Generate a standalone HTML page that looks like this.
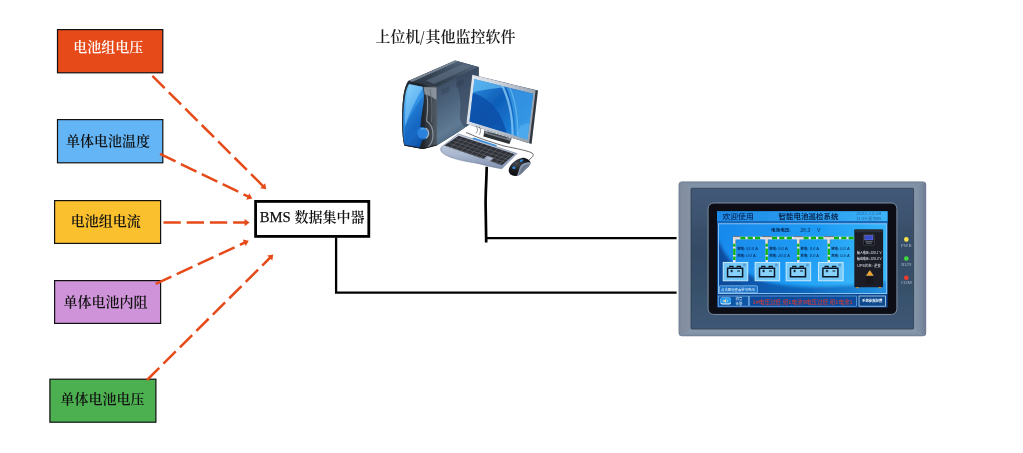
<!DOCTYPE html>
<html lang="zh-CN">
<head>
<meta charset="utf-8">
<title>BMS 数据集中器</title>
<style>
html,body{margin:0;padding:0;background:#fff;}
body{width:1023px;height:453px;overflow:hidden;position:relative;}
svg{position:absolute;left:0;top:0;display:block;will-change:transform;}
.serif{font-family:"Liberation Serif","Noto Serif CJK SC",serif;font-size:14px;font-weight:600;}
.sans{font-family:"Liberation Sans","Noto Sans CJK SC",sans-serif;}
.dash{stroke:#E64A19;stroke-width:2.5;stroke-dasharray:17.3 5.9;fill:none;}
.ah{fill:#E64A19;}
.wire{stroke:#000;stroke-width:2;fill:none;stroke-linejoin:miter;}
</style>
</head>
<body>
<svg width="1023" height="453" viewBox="0 0 1023 453">
<defs>
<filter id="soft" x="-5%" y="-5%" width="110%" height="110%"><feGaussianBlur stdDeviation="0.45"/></filter>
<filter id="swBlur" x="-10%" y="-30%" width="120%" height="160%"><feGaussianBlur stdDeviation="1.6"/></filter>
<filter id="soft2" x="-5%" y="-5%" width="110%" height="110%"><feGaussianBlur stdDeviation="0.3"/></filter>
</defs>
<!-- ===== sensor boxes ===== -->
<g id="boxes" stroke="#111" stroke-width="1.2">
<rect x="57.5" y="29.6" width="105.3" height="43.2" fill="#E64A19"/>
<rect x="57.5" y="119.6" width="105.3" height="43.2" fill="#64B5F6"/>
<rect x="54.6" y="200.6" width="106" height="42.8" fill="#FBC02D"/>
<rect x="54.6" y="280.6" width="106" height="42.8" fill="#CE93D8"/>
<rect x="49.9" y="379.2" width="106" height="43" fill="#4CAF50"/>
</g>
<g id="boxlabels" class="serif" text-anchor="middle">
<text x="108.2" y="52" fill="#fff">电池组电压</text>
<text x="108.1" y="146" fill="#111">单体电池温度</text>
<text x="105.8" y="226" fill="#111">电池组电流</text>
<text x="105.4" y="306.5" fill="#111">单体电池内阻</text>
<text x="102.5" y="404" fill="#111">单体电池电压</text>
</g>
<!-- ===== dashed arrows ===== -->
<g id="arrows">
<line class="dash" x1="152.4" y1="75.9" x2="264" y2="187"/>
<line class="dash" x1="160" y1="153.9" x2="249.5" y2="197.2"/>
<line class="dash" x1="163.5" y1="222.6" x2="246.5" y2="222.6"/>
<line class="dash" x1="155.7" y1="283.8" x2="246" y2="242"/>
<line class="dash" x1="147" y1="380" x2="271.3" y2="256.5"/>
<polygon class="ah" points="0,0 -5,-3.6 -5,3.6" transform="translate(266.2,189.3) rotate(45)"/>
<polygon class="ah" points="0,0 -5,-3.6 -5,3.6" transform="translate(252.3,198.6) rotate(25.8)"/>
<polygon class="ah" points="0,0 -5,-3.6 -5,3.6" transform="translate(249.6,222.6)"/>
<polygon class="ah" points="0,0 -5,-3.6 -5,3.6" transform="translate(248.8,240.7) rotate(-24.8)"/>
<polygon class="ah" points="0,0 -5,-3.6 -5,3.6" transform="translate(273.3,254.5) rotate(-44.8)"/>
</g>
<!-- ===== BMS box ===== -->
<rect x="255.6" y="201.4" width="113.2" height="35" fill="#fff" stroke="#000" stroke-width="2.8"/>
<text class="serif" x="259.7" y="222.4" fill="#111"><tspan style="font-size:14.7px;font-weight:400" stroke="#111" stroke-width="0.25">BMS</tspan><tspan x="294.6">数据集中器</tspan></text>
<!-- ===== wires ===== -->
<polyline class="wire" style="stroke-width:2.3" points="336.1,237.5 336.1,292.6 676.6,292.6"/>
<path class="wire" style="stroke-width:2.7" d="M486.7,166.8 C486.6,178 485.5,192 485.6,204 C485.7,218 486.1,230 486.2,242.4"/>
<line class="wire" style="stroke-width:2.3" x1="485" y1="238.1" x2="676.6" y2="238.1"/>
<!-- ===== title ===== -->
<text class="serif" x="375.6" y="42" fill="#1a1a1a" style="font-size:14.8px;font-weight:600">上位机<tspan x="425.4" style="font-size:15px">其他监控软件</tspan></text>
<text class="serif" transform="translate(420.1,44.7) scale(1,1.36)" fill="#1a1a1a" style="font-size:16px;font-weight:400">/</text>
<!-- ===== computer ===== -->
<g id="computer" filter="url(#soft)">
<defs>
<linearGradient id="tTop" x1="0" y1="1" x2="1" y2="0">
<stop offset="0" stop-color="#29313c"/><stop offset="0.45" stop-color="#384656"/><stop offset="1" stop-color="#566b84"/>
</linearGradient>
<linearGradient id="tSide" x1="0" y1="0" x2="0.35" y2="1">
<stop offset="0" stop-color="#2e3c50"/><stop offset="0.4" stop-color="#485d76"/><stop offset="0.8" stop-color="#5f7a94"/><stop offset="1" stop-color="#4a617a"/>
</linearGradient>
<linearGradient id="tFront" x1="0" y1="0" x2="1" y2="0">
<stop offset="0" stop-color="#2a2f36"/><stop offset="0.55" stop-color="#1c2026"/><stop offset="0.8" stop-color="#3a4149"/><stop offset="1" stop-color="#565e68"/>
</linearGradient>
<linearGradient id="tBlue" x1="0.2" y1="0" x2="0.7" y2="1">
<stop offset="0" stop-color="#74c8fa"/><stop offset="0.3" stop-color="#3598ea"/><stop offset="0.65" stop-color="#1a70cc"/><stop offset="1" stop-color="#0d4ea4"/>
</linearGradient>
<linearGradient id="mFrame" x1="0" y1="0" x2="1" y2="0.3">
<stop offset="0" stop-color="#e6ebf2"/><stop offset="0.5" stop-color="#c6cfda"/><stop offset="1" stop-color="#9aa5b4"/>
</linearGradient>
<linearGradient id="mScreen" x1="0" y1="0" x2="1" y2="1">
<stop offset="0" stop-color="#2f94e6"/><stop offset="0.4" stop-color="#0f5eb8"/><stop offset="0.75" stop-color="#1a7cd4"/><stop offset="1" stop-color="#3fa4ee"/>
</linearGradient>
<linearGradient id="kBase" x1="0" y1="0" x2="0" y2="1">
<stop offset="0" stop-color="#c9d3e2"/><stop offset="0.6" stop-color="#a9b7cf"/><stop offset="1" stop-color="#7f8fae"/>
</linearGradient>
<radialGradient id="mouseG" cx="0.35" cy="0.3" r="0.8">
<stop offset="0" stop-color="#4a4f58"/><stop offset="0.5" stop-color="#1a1c20"/><stop offset="1" stop-color="#050507"/>
</radialGradient>
<clipPath id="mClip"><polygon points="474.4,79 533.2,93.8 527.4,139.4 469.5,121.4"/></clipPath>
</defs>
<!-- tower -->
<path d="M408.3,81 L455.2,60.5 L478.6,67 L478.6,118 L457.6,132.4 L436.8,145.4 L423,149 L404.4,145.6 C401.6,136 401.4,113 403.4,96 C404.4,89 406,84.4 408.3,81 Z" fill="#34414f"/>
<polygon points="408.3,81 455.2,60.5 478.6,67 437,87" fill="url(#tTop)"/>
<polygon points="408.3,81 455.2,60.5 458,61.3 412,82" fill="#8391a0" opacity="0.8"/>
<polygon points="426,80.6 463,64 472,66.6 434,84" fill="#627387" opacity="0.6"/>
<polygon points="436.6,87 478.6,67 478.6,118 457.6,132.4 436.6,145.6" fill="url(#tSide)"/>
<path d="M456,78 C458,92 462,100 460,112 C459,120 462,126 466,127 L478.6,118 L478.6,67 Z" fill="#34445a" opacity="0.55"/>
<path d="M408.3,81 L437,87 L436.8,145 L423,149 L404.4,145.6 C401.6,136 401.4,113 403.4,96 C404.4,89 406,84.4 408.3,81 Z" fill="url(#tFront)"/>
<path d="M423.6,87 L436.4,87.6 L436.4,100 C432,97 428,95 424.6,94.6 Z" fill="#9aa2ac" opacity="0.8"/>
<path d="M409,84 L422.6,86.8 C424.4,92 424.2,101 422.4,110 C421.4,116 420.6,122 420.4,127 C424,126.6 428.4,129 428.6,133.4 C428.6,137.6 425.6,140.2 422.4,139.8 C421.4,142.6 420.6,145.4 419.6,147.8 L404.6,145 C402.6,135 402.6,113 404.8,98 C405.8,91 407.2,87 409,84 Z" fill="url(#tBlue)"/>
<path d="M409.2,84.4 C406,95 404.8,110 405,126 C410,112 416,99 422.6,88.6 L422.4,86.8 Z" fill="#9ad8fc" opacity="0.5"/>
<path d="M405,128 C409,118 414,108 422.8,97 L422.4,110 C421.4,116 421,121 421.6,125 C414,130 408,138 405,145 Z" fill="#0e55ae" opacity="0.35"/>
<circle cx="422.8" cy="133.2" r="5.6" fill="#2a82dc"/>
<path d="M419.4,129.6 A4.6,4.6 0 0 1 425.6,129.6 C423.6,129.2 421.4,129.2 419.4,129.6 Z" fill="#7cc4f8" opacity="0.8"/>
<path d="M425.4,128 A5.8,5.8 0 0 1 425.8,138.2" fill="none" stroke="#aab2bc" stroke-width="1.2"/>
<path d="M425.4,88 C428,96 428.2,108 426.6,121 C431,124 433.4,129 433,136 C432.6,141 430.6,145 427.6,147.4" fill="none" stroke="#8a929c" stroke-width="1.2"/>
<path d="M430,89 C432.2,100 432.4,112 431.4,122" fill="none" stroke="#646c76" stroke-width="0.9"/>
<path d="M404.6,145.2 L423,148.6 L436.6,145" fill="none" stroke="#15181c" stroke-width="0.9"/>
<g stroke="#1f262e" stroke-width="0.45" opacity="0.85" stroke-dasharray="0.7 0.6">
<path d="M442.4,89.4v5.4M443.7,88.8v5.4M445,88.2v5.4M446.3,87.6v5.4M447.6,87v5.4M448.9,86.4v5.4"/>
<path d="M456.6,82.6v5.4M457.9,82v5.4M459.2,81.4v5.4M460.5,80.8v5.4M461.8,80.2v5.4M463.1,79.6v5.4"/>
</g>
<!-- monitor stand -->
<polygon points="484.4,130.6 511.6,138.6 509.4,144 483.4,136.4" fill="#2c3036"/>
<polygon points="484.6,130.4 511.6,138.4 510.6,141 484.2,133.2" fill="#777d86"/>
<polygon points="488,131.6 507,137.2 506.6,138.6 487.6,133" fill="#4a5058"/>
<polygon points="487,124 494,126 493.4,133.2 486.4,131.4" fill="#aab3bf"/>
<!-- monitor -->
<polygon points="472.3,74.8 538,90.6 531.6,144 466.4,123.8" fill="#33383f"/>
<polygon points="472.3,74.8 535.6,90.2 529.2,143.2 466.4,123.8" fill="url(#mFrame)"/>
<polygon points="474.4,79 533.2,93.8 527.4,139.4 469.5,121.4" fill="url(#mScreen)"/>
<g clip-path="url(#mClip)">
<path d="M472,93 C488,97 502,110 508,138 L468,124 Z" fill="#0a4ea8" opacity="0.8"/>
<path d="M474.4,79 L506,87 C497,88.4 484,89.4 473,92.4 Z" fill="#6cc4f8" opacity="0.65"/>
<path d="M506,87 C512,100 516,118 515.4,138 L529,140 L534,94 Z" fill="#3c9ee8" opacity="0.75"/>
<path d="M501,85.6 C508,100 512,118 511.4,136 L513.6,136.6 C514.2,118 510.4,100 503.8,86.2 Z" fill="#8fd0fa" opacity="0.75"/>
<path d="M509,87.6 C514.6,100 517.6,118 517,137.6 L518.4,138 C519,118 516,100 510.6,88 Z" fill="#7cc4f6" opacity="0.6"/>
<path d="M520,126 C524,124 528,123 531,123 L528,140 L516,138 Z" fill="#62b8f4" opacity="0.5"/>
</g>
<!-- keyboard -->
<path d="M458.5,134 L517,153.6 L501.8,168.8 C494,167.6 486,165.4 478,163.4 C466,161.6 450,158.6 443.4,153.6 C440.4,151.4 440,149 441.6,146.8 Z" fill="url(#kBase)" stroke="#6f7c96" stroke-width="0.6"/>
<polygon points="458.6,135.8 514.6,154.2 502,165.2 444.4,145.6" fill="#2f3137"/>
<polygon points="487,155.8 493.6,158 490,161.4 483.4,159.2" fill="#aab8d2"/>
<polygon points="473.6,137.6 497,145.2 496,146.6 472.6,139" fill="#3a8fe0"/>
<g stroke="#7a7f8a" stroke-width="0.45" fill="none" opacity="0.9">
<path d="M455.6,138.4 L511.6,157 M452.6,141 L508.6,159.6 M449.6,143.6 L505.6,162.2 M447,146 L503,164.6"/>
<path d="M463,137.4 L449,149 M468,139 L454,150.6 M473,140.6 L459,152.2 M478,142.2 L464,153.8 M483,143.8 L469,155.4 M488,145.4 L474,157 M493,147 L479,158.6 M498,148.6 L484,160.2 M503,150.2 L489,161.8 M508,151.8 L494,163.4 M512,153.4 L498,165"/>
</g>
<!-- mouse cable -->
<path d="M529.1,159.9 C531.6,157.6 534.6,155.6 532.6,153.4 C529,150.8 516,148.6 504,146 C494,143 482,139 476.4,136.8 C471,134.6 468,133 466,132.6" fill="none" stroke="#2a2c30" stroke-width="0.7"/>
<path d="M476,126 C478,128.6 478,131 476,133.4 M479,126.6 C481,129 481,132 479.4,134.6" fill="none" stroke="#2a2c30" stroke-width="0.5"/>
<!-- mouse -->
<path d="M521.9,157.9 C525,157.6 529.6,159.4 530.5,162.6 C530.8,165.4 527,168 524,171 C521.6,173.6 519,176.2 515.2,175.9 C511.6,175.8 508.8,173.6 508.7,170.4 C508.8,166 514,159.4 521.9,157.9 Z" fill="url(#mouseG)"/>
<path d="M520.8,165.4 C523.6,163 527.4,161.6 530.3,162.6 C530.6,165.4 527,168 524,171 C521.8,173.4 519.4,175.6 516.8,175.8 C518.8,172.6 518.6,168.6 520.8,165.4 Z" fill="#8b99b0"/>
<path d="M522.6,166.6 C524.6,165 527,164 529.4,164 C528,166.4 525.6,168.4 523.6,170.6 C522,172.4 520.4,174 518.8,174.8 C520,172 520.6,169 522.6,166.6 Z" fill="#5b6a82" opacity="0.7"/>
<ellipse cx="521.5" cy="160.6" rx="1.9" ry="1.1" fill="#2f8be6" transform="rotate(-32 521.5 160.6)"/>
<ellipse cx="513.9" cy="167.7" rx="1.6" ry="1.3" fill="#2f8be6"/>
</g>

<!-- ===== HMI device ===== -->
<g id="hmi" filter="url(#soft)">
<defs>
<linearGradient id="hInner" x1="0" y1="0" x2="0" y2="1">
<stop offset="0" stop-color="#435978"/><stop offset="0.45" stop-color="#344b64"/><stop offset="0.8" stop-color="#39526d"/><stop offset="1" stop-color="#3f5876"/>
</linearGradient>
<linearGradient id="hRight" x1="0" y1="0" x2="1" y2="0"><stop offset="0" stop-color="#8797ab"/><stop offset="0.6" stop-color="#7a8a9f"/><stop offset="1" stop-color="#6c7b92"/></linearGradient>
<linearGradient id="hLeft" x1="0" y1="0" x2="1" y2="0"><stop offset="0" stop-color="#727f93"/><stop offset="0.2" stop-color="#828ea0"/><stop offset="1" stop-color="#8592a4"/></linearGradient>
<linearGradient id="hTop" x1="0" y1="0" x2="0" y2="1"><stop offset="0" stop-color="#728297"/><stop offset="0.35" stop-color="#8193a7"/><stop offset="1" stop-color="#7f91a6"/></linearGradient>
<linearGradient id="hBot" x1="0" y1="0" x2="0" y2="1"><stop offset="0" stop-color="#8a9aae"/><stop offset="0.7" stop-color="#8292a7"/><stop offset="1" stop-color="#6f7e93"/></linearGradient>
<linearGradient id="hHead" x1="0" y1="0" x2="1" y2="0">
<stop offset="0" stop-color="#1e8ae6"/><stop offset="0.55" stop-color="#2a9cef"/><stop offset="1" stop-color="#3cb4f8"/>
</linearGradient>
<linearGradient id="hPanel" x1="0" y1="0" x2="1" y2="0.25">
<stop offset="0" stop-color="#1888ec"/><stop offset="0.6" stop-color="#1e9cf4"/><stop offset="1" stop-color="#3ab8fa"/>
</linearGradient>
<linearGradient id="hDark" x1="0" y1="0" x2="1" y2="0">
<stop offset="0" stop-color="#0a4c9e"/><stop offset="0.5" stop-color="#0f66bc"/><stop offset="1" stop-color="#2496e4"/>
</linearGradient>
<clipPath id="hOuterClip"><rect x="678.6" y="181.6" width="247.6" height="154.6" rx="3.6"/></clipPath>
<clipPath id="hClip"><rect x="718.6" y="223.6" width="168.2" height="69.8"/></clipPath>
</defs>
<rect x="678.6" y="181.6" width="247.6" height="154.6" rx="3.6" fill="#8390a3"/>
<g clip-path="url(#hOuterClip)">
<polygon points="678.6,181.6 926.2,181.6 913.6,188.3 691,188.3" fill="url(#hTop)"/>
<polygon points="678.6,181.6 691,188.3 691,329 678.6,336.2" fill="url(#hLeft)"/>
<polygon points="926.2,181.6 926.2,336.2 913.6,329 913.6,188.3" fill="url(#hRight)"/>
<polygon points="678.6,336.2 926.2,336.2 913.6,329 691,329" fill="url(#hBot)"/>
</g>
<rect x="691" y="188.3" width="222.6" height="140.8" rx="1" fill="url(#hInner)" stroke="#2a3646" stroke-width="0.7"/>
<rect x="708.1" y="203" width="188.8" height="111.4" rx="5.5" fill="#080b12" stroke="#7f8fa4" stroke-width="1"/>
<!-- screen -->
<rect x="717" y="211.2" width="170.6" height="96.4" fill="#0b4690"/>
<rect x="717" y="211.2" width="170.6" height="10.2" fill="url(#hHead)"/>
<rect x="717" y="221.4" width="170.6" height="2.4" fill="#1669bd"/>
<rect x="718.6" y="223.8" width="168.2" height="69.6" fill="url(#hPanel)"/>
<g clip-path="url(#hClip)">
<path filter="url(#swBlur)" d="M710,232 L718.6,240 C724,257 740,273 765,281.6 C790,288.5 830,289 886.8,281 L896,280 L896,302 L710,302 Z" fill="url(#hDark)"/>
<path d="M718.6,243 C722,256 728,268 737,279 C742,285 748,290 755,293.4 L718.6,293.4 Z" fill="#0a4a9a" opacity="0.6"/>
</g>
<rect x="718.6" y="223.8" width="168.2" height="69.6" fill="none" stroke="#a4d8ff" stroke-width="0.8"/>
<!-- header text -->
<g class="sans">
<text transform="translate(722.4,219) scale(1.09,1)" font-size="7.2" font-weight="500" fill="#0a2a5c">欢迎使用</text>
<text transform="translate(778.6,218.9) scale(1.12,1)" font-size="6.7" font-weight="700" fill="#08244d">智能电池巡检系统</text>
<text x="856.2" y="215.4" font-size="3.7" fill="#2a64a4" textLength="25" lengthAdjust="spacingAndGlyphs">2022-12-08</text>
<text x="856.2" y="220" font-size="3.5" fill="#2a64a4" textLength="25" lengthAdjust="spacingAndGlyphs">11:39  星期四</text>
<text transform="translate(771,231.8) scale(1.15,1)" font-size="4" font-weight="700" fill="#06204a">电池电压:</text>
<text x="800" y="232.2" font-size="5.2" font-style="italic" fill="#0a2c5c">38.3</text>
<text x="817" y="232.2" font-size="5.2" fill="#0a2c5c">V</text>
</g>
<!-- pipes -->
<g fill="none">
<path d="M734.3,262 V238 H854.3" stroke="#f1e7ee" stroke-width="2.5"/>
<path d="M766.7,238 V262 M798.3,238 V262 M828.8,238 V262" stroke="#f1e7ee" stroke-width="2.3"/>
<path d="M740.2,238 H762 M771.9,238 H793.6 M803.4,238 H824.1 M833.8,238 H854.3" stroke="#0fb40f" stroke-width="2.5" stroke-dasharray="5.2 2.2"/>
<path d="M734.3,243.6 V260 M766.7,243.6 V260 M798.3,243.6 V260 M828.8,243.6 V260" stroke="#0fb40f" stroke-width="2.3" stroke-dasharray="3.2 1.6 6.6 1.6 4.6 2"/>
<path d="M733.1,237.9 H740.2 M762,237.9 H771.9 M793.6,237.9 H803.4 M824.1,237.9 H833.8" stroke="#e4dcdc" stroke-width="2.7"/>
<path d="M734.3,237 V243.6 M766.7,237 V243.6 M798.3,237 V243.6 M828.8,237 V243.6" stroke="#e4dcdc" stroke-width="2.4"/>
<path d="M733.1,236.6 H740.2 M762,236.6 H771.9 M793.6,236.6 H803.4 M824.1,236.6 H833.8" stroke="#4b4b55" stroke-width="0.7"/>
<path d="M735.7,239.6 V243.6 M768.1,239.6 V243.6 M799.7,239.6 V243.6 M830.2,239.6 V243.6" stroke="#6b6b75" stroke-width="0.6"/>
</g>
<!-- section readings -->
<g class="sans" font-size="4" fill="#08244d">
<text x="737.2" y="250.2"><tspan font-weight="700" font-size="3.4">放电:</tspan> <tspan font-style="italic">52.0</tspan> A</text>
<text x="737.2" y="256.6"><tspan font-weight="700" font-size="3.4">充电:</tspan> <tspan font-style="italic">0.0</tspan> A</text>
<text x="769.2" y="250.2"><tspan font-weight="700" font-size="3.4">放电:</tspan> <tspan font-style="italic">0.0</tspan> A</text>
<text x="769.2" y="256.6"><tspan font-weight="700" font-size="3.4">充电:</tspan> <tspan font-style="italic">20.0</tspan> A</text>
<text x="800.6" y="250.2"><tspan font-weight="700" font-size="3.4">放电:</tspan> <tspan font-style="italic">0.0</tspan> A</text>
<text x="800.6" y="256.6"><tspan font-weight="700" font-size="3.4">充电:</tspan> <tspan font-style="italic">0.0</tspan> A</text>
<text x="831.2" y="250.2"><tspan font-weight="700" font-size="3.4">放电:</tspan> <tspan font-style="italic">0.0</tspan> A</text>
<text x="831.2" y="256.6"><tspan font-weight="700" font-size="3.4">充电:</tspan> <tspan font-style="italic">0.5</tspan> A</text>
</g>
<!-- battery tiles -->
<g id="tiles">
<g>
<rect x="723.2" y="262.4" width="24.6" height="18.4" fill="#74c9f8" stroke="#d2eeff" stroke-width="0.9"/>
<path d="M727.6,268.2 H742.6 V276.8 H727.6 Z" fill="#86d2fb" stroke="#0a1826" stroke-width="1.5"/>
<path d="M729.8,267.6 V266.4 H733 V267.6 M737.2,267.6 V266.4 H740.4 V267.6" fill="none" stroke="#0a1826" stroke-width="1.2"/>
<path d="M730.4,271 H733 M731.7,269.7 V272.3 M737.2,271 H740" stroke="#0a1826" stroke-width="1" fill="none"/>
<circle cx="744.4" cy="265" r="1.5" fill="#5a9fd0"/>
</g>
<g transform="translate(31.9,0)">
<rect x="723.2" y="262.4" width="24.6" height="18.4" fill="#74c9f8" stroke="#d2eeff" stroke-width="0.9"/>
<path d="M727.6,268.2 H742.6 V276.8 H727.6 Z" fill="#86d2fb" stroke="#0a1826" stroke-width="1.5"/>
<path d="M729.8,267.6 V266.4 H733 V267.6 M737.2,267.6 V266.4 H740.4 V267.6" fill="none" stroke="#0a1826" stroke-width="1.2"/>
<path d="M730.4,271 H733 M731.7,269.7 V272.3 M737.2,271 H740" stroke="#0a1826" stroke-width="1" fill="none"/>
<circle cx="744.4" cy="265" r="1.5" fill="#5a9fd0"/>
</g>
<g transform="translate(62.9,0)">
<rect x="723.2" y="262.4" width="24.6" height="18.4" fill="#74c9f8" stroke="#d2eeff" stroke-width="0.9"/>
<path d="M727.6,268.2 H742.6 V276.8 H727.6 Z" fill="#86d2fb" stroke="#0a1826" stroke-width="1.5"/>
<path d="M729.8,267.6 V266.4 H733 V267.6 M737.2,267.6 V266.4 H740.4 V267.6" fill="none" stroke="#0a1826" stroke-width="1.2"/>
<path d="M730.4,271 H733 M731.7,269.7 V272.3 M737.2,271 H740" stroke="#0a1826" stroke-width="1" fill="none"/>
<circle cx="744.4" cy="265" r="1.5" fill="#5a9fd0"/>
</g>
<g transform="translate(95.3,0)">
<rect x="723.2" y="262.4" width="24.6" height="18.4" fill="#74c9f8" stroke="#d2eeff" stroke-width="0.9"/>
<path d="M727.6,268.2 H742.6 V276.8 H727.6 Z" fill="#86d2fb" stroke="#0a1826" stroke-width="1.5"/>
<path d="M729.8,267.6 V266.4 H733 V267.6 M737.2,267.6 V266.4 H740.4 V267.6" fill="none" stroke="#0a1826" stroke-width="1.2"/>
<path d="M730.4,271 H733 M731.7,269.7 V272.3 M737.2,271 H740" stroke="#0a1826" stroke-width="1" fill="none"/>
<circle cx="744.4" cy="265" r="1.5" fill="#5a9fd0"/>
</g>

</g>
<!-- UPS cabinet -->
<g id="ups">
<rect x="854.3" y="229.6" width="28.8" height="57.6" rx="1" fill="#1b1e25"/>
<rect x="854.3" y="229.6" width="28.8" height="2.6" rx="1" fill="#2a2e37"/>
<rect x="863.6" y="234.4" width="10.6" height="10.6" rx="0.8" fill="#0c0e13" stroke="#5a606c" stroke-width="0.5"/>
<rect x="864.8" y="235.4" width="8.2" height="4.6" fill="#3a4cd0" stroke="#8f9ad8" stroke-width="0.4"/>
<rect x="865.2" y="241.4" width="7.4" height="1" fill="#8a909a"/>
<rect x="866" y="243.2" width="5.8" height="0.8" fill="#60656e"/>
<g class="sans" font-size="3.2" fill="#dfe3ea">
<text x="857" y="254.2" textLength="24.6" lengthAdjust="spacingAndGlyphs"><tspan font-weight="700" font-size="2.9">输入电压:</tspan> <tspan font-style="italic">220.1</tspan> V</text>
<text x="857" y="260" textLength="24.6" lengthAdjust="spacingAndGlyphs"><tspan font-weight="700" font-size="2.9">输出电压:</tspan> <tspan font-style="italic">220.3</tspan> V</text>
<text x="857.2" y="267.4" font-size="3.6" textLength="23.6" lengthAdjust="spacingAndGlyphs">UPS状态: 逆变</text>
</g>
<path d="M866.4,275.4 L869.8,270.6 L873.2,275.4 Z" fill="#f7a21e" stroke="#ffd98a" stroke-width="0.4" stroke-linejoin="round"/>
<rect x="866.4" y="276.6" width="6.8" height="7.4" fill="#15171c"/>
<rect x="856.4" y="287" width="2.2" height="1.2" fill="#e08a1a"/>
<rect x="878.8" y="287" width="2.2" height="1.2" fill="#e08a1a"/>
</g>
<!-- hint label -->
<rect x="719.4" y="285.8" width="38" height="7" rx="0.8" fill="#1a73c8" stroke="#b6dcff" stroke-width="0.6"/>
<text class="sans" x="721" y="291" font-size="3.4" fill="#e6f2ff">点击图标查看单节电压</text>
<!-- bottom bar -->
<rect x="718.2" y="296" width="30.2" height="10.2" fill="#0d56a6" stroke="#a4d4ff" stroke-width="0.6"/>
<rect x="720.4" y="297.6" width="10.6" height="7" rx="1.8" fill="#e9f4ff"/>
<rect x="720.4" y="297.6" width="10.6" height="6" rx="1.8" fill="#2a9cf0"/>
<path d="M722.8,300.4 H724.2 L726,299 V302.8 L724.2,301.4 H722.8 Z" fill="#ffd9a0"/>
<path d="M727,299.6 C727.8,300.4 727.8,301.4 727,302.2" fill="none" stroke="#eaf4ff" stroke-width="0.5"/>
<text class="sans" x="735.6" y="300.4" font-size="3.3" fill="#e6f2ff">消音</text>
<text class="sans" x="735.6" y="304.8" font-size="3.3" fill="#e6f2ff">告警</text>
<rect x="749.4" y="296" width="107" height="10.2" fill="#0b4c9c" stroke="#7fc0f6" stroke-width="0.6"/>
<text class="sans" x="752.6" y="303.6" font-size="5.6" fill="#e23b2e">1#电压过低 组1电池9电压过低 组1电池1</text>
<rect x="859" y="296" width="26.4" height="10.2" fill="#0c4a8c" stroke="#cfe8ff" stroke-width="0.7"/>
<text class="sans" x="872.2" y="302.4" font-size="3.4" font-weight="700" fill="#f2f8ff" text-anchor="middle">系统参数配置</text>
<!-- LEDs -->
<g font-family="'Liberation Serif',serif" font-size="4.9" fill="#a9b6c9" text-anchor="middle">
<circle cx="906.3" cy="239.4" r="2.3" fill="#f7e24c"/>
<text x="906.4" y="247">PWR</text>
<circle cx="906.3" cy="258.5" r="2.3" fill="#3ddc3d"/>
<text x="906.4" y="265.6">RUN</text>
<circle cx="906.3" cy="277.8" r="2.3" fill="#ee3a30"/>
<text x="906.4" y="284.4">COM</text>
</g>
</g>

</svg>
</body>
</html>
